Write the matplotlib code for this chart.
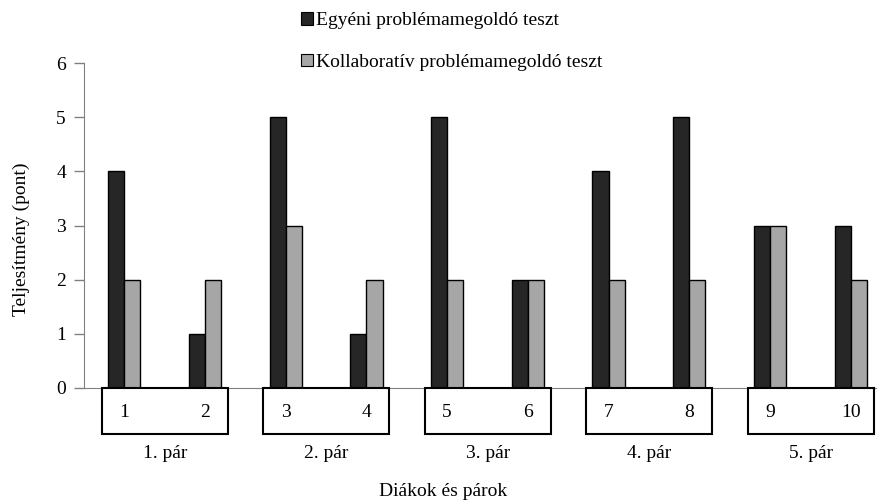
import matplotlib
matplotlib.use("Agg")
import matplotlib.pyplot as plt
from matplotlib.patches import Rectangle, Patch
import numpy as np

plt.rcParams['font.family'] = ['Liberation Serif', 'DejaVu Serif']

students = ['1', '2', '3', '4', '5', '6', '7', '8', '9', '10']
pairs = ['1. pár', '2. pár', '3. pár', '4. pár', '5. pár']
individual = [4, 1, 5, 1, 5, 2, 4, 5, 3, 3]
collaborative = [2, 2, 3, 2, 2, 2, 2, 2, 3, 2]
series_names = ['Egyéni problémamegoldó teszt', 'Kollaboratív problémamegoldó teszt']
y_ticks = [0, 1, 2, 3, 4, 5, 6]

dark = '#262626'
gray = '#a6a6a6'
axis_col = '#808080'
FS = 14

W, H = 877, 501
fig = plt.figure(figsize=(W / 100, H / 100), dpi=100)
ax = fig.add_axes([84 / W, 113 / H, 807 / W, 325 / H])

x = np.arange(len(students))
w = 0.2
ax.bar(x - w / 2, individual, w, color=dark, edgecolor='black', linewidth=1.0, zorder=3)
ax.bar(x + w / 2, collaborative, w, color=gray, edgecolor='black', linewidth=1.0, zorder=3)

ax.set_xlim(-0.5, len(students) - 0.5)
ax.set_ylim(0, 6)
ax.set_yticks(y_ticks)
ax.set_yticklabels([str(t) for t in y_ticks], fontsize=FS)
ax.tick_params(axis='y', direction='out', length=7, width=1, color=axis_col, pad=6)
ax.set_xticks([])
for s in ['top', 'right']:
    ax.spines[s].set_visible(False)
ax.spines['left'].set_color(axis_col)
ax.spines['bottom'].set_color(axis_col)
ax.set_ylabel('Teljesítmény (pont)', fontsize=FS, va='center')
ax.yaxis.set_label_coords(-0.078, 0.458)

# boxes with student numbers and pair labels
box_h = 0.85
for p, name in enumerate(pairs):
    left = 2 * p - 0.277
    right = 2 * p + 1 + 0.284
    ax.add_patch(Rectangle((left, -box_h), right - left, box_h, facecolor='white',
                           edgecolor='black', linewidth=1.5, clip_on=False, zorder=4))
    ax.text((left + right) / 2, -1.2, name, ha='center', va='center', fontsize=FS, clip_on=False)
for i, s in enumerate(students):
    ax.text(i, -0.46, s, ha='center', va='center', fontsize=FS, zorder=5, clip_on=False)

fig.text(443 / W, 1 - 492 / H, 'Diákok és párok', ha='center', va='center', fontsize=FS)

handles = [Patch(facecolor=dark, edgecolor='black', linewidth=0.8),
           Patch(facecolor=gray, edgecolor='black', linewidth=0.8)]
fig.legend(handles, series_names, loc='upper left', bbox_to_anchor=(289 / W, 1.0),
           frameon=False, fontsize=FS, handlelength=0.62, handleheight=0.62,
           handletextpad=0.15, labelspacing=1.25, borderaxespad=0.22)

fig.savefig('out.png', dpi=100)
